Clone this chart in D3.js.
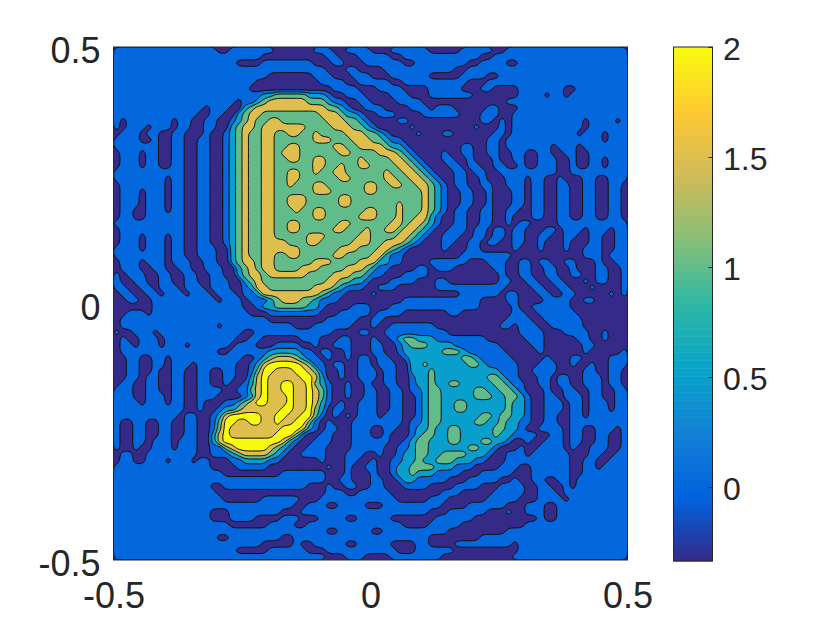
<!DOCTYPE html>
<html>
<head>
<meta charset="utf-8">
<script src="https://cdn.jsdelivr.net/npm/d3@7"></script>
<style>
  html, body { margin: 0; padding: 0; background: #fff; }
  text { font-family: "Liberation Sans", Arial, sans-serif; fill: #262626; }
</style>
</head>
<body>
<svg id="chart" width="840" height="630"></svg>
<script>
// field, one digit per cell: index into bandValues, left and right half of each row
const fieldRows = [
"1111111111111111001111111000000111001111 0001111110000011111001111111111111111111",
"1111111111111111111111100000000001100011 1110011111111111100111111111111111111111",
"1111111111111111111000011111111000110001 1111100111111110011110011111111111111111",
"1111111111111111111111111111111110001100 0011111111111001111111111111111111111111",
"1111111111111111111111110000000111000111 0001111110000011110011111111111111111111",
"1111111111111111111111000000000011110011 1110011111111110001111111111111111111111",
"1111111111111111111110000000000000111100 0111100001111100011000011111110011111111",
"1111111111111111111111122333332221001110 0001110001111111000000011110110111111111",
"1111111111111111111011234444443332110011 0000111100000000000001111111111111111111",
"1111111111111101110023444444444443321001 1100001110111000001100011111111111111111",
"1111111111111001100234433333333344432210 0111000011111100011100111111111111111111",
"1011111110110011001234334433333334443321 0000110000000000011010111111111110111101",
"1011101110110011002344344444443333444332 1000001000000000100010111111111110111111",
"0111011001100010012343344334433433334443 3210000100011000000110111111111101110111",
"1111001001100110012343344333333444333444 3321100000000000001101111111111111110111",
"1111111001100110012343344334433333443344 4432210000000011001101111111011101111111",
"0111011001100110012343344344433333344333 3444321000010011001100110011001100111111",
"0111011001100110012343344334433443333343 3334432100011001000100110011100100110111",
"0111011001100110012343344333333443343344 3333443210001101100110010011100100110111",
"1111111111100110012343344334433433443333 3343344321000110110011111111100111111111",
"1111111101100110012343344334433333344333 3344334432100110010001110110010001100111",
"0111111101100110012343344334333443333334 4334433443210110011001110110011001100110",
"0111011101100110012343344333333444333334 4333333343210011001000110110011001100110",
"0111011101100110012343344334443333344333 3333333343210011001000110110011001100110",
"0111011101100110012343344334443333344333 3333433343210011001000110110011001100110",
"0110011101100110012343344333433443333334 4333433343210110011001100110011001100110",
"0110011111100110012343344333333443333344 4333433442100110011001000110011001100110",
"1111111111100110012343344334433333344333 3334434432100110011001011000011111111111",
"0111111111100110012343344334433333443334 3344344321001110110110110001101110111011",
"0111011101100110012343344333334443333344 3333443210011100110110110011001100110011",
"0111011101100110012343344443334433333444 3344432100011001101100110010001000110011",
"1111011101100111002343344444433333344433 3443210000010001100000100010001001110011",
"1111111101100111002343344334433333443333 4421100000000011111111000000000001110111",
"0111011101110011002344344333333444333344 4221100001111110001110011011001100010011",
"0111001100110011100234344333344433334443 2110000110111000000110011001100100011001",
"1011100110011001100234434444443333444332 1100011110000000000010011001100110011001",
"1001100110011001110023433333333334433221 0001111000110000000011001100110001011001",
"1100110111011101110012443333333444321110 0111000000111111111110000110011000100001",
"0110011011101110111011244444444432110000 1000000000000011111101100011001100000101",
"0011001111111111011101112344433211100000 0000011111111111100001100001111001100000",
"0000001111111111111100122333332210000111 0001111111111111100000100111111000000000",
"0011101111111111111110001111111100011111 0111100000001100000000110011111100000000",
"0111111111111111111111110000000001111100 1100000000000000000001111001111110000000",
"0111111111111111011111111111000111111000 1001111111000000000011011100111110000000",
"1001110111111111111100111111111111000011 0011111111110000000000011110001111001000",
"0100111011111111111001100000011100011000 1001233222111111110000001110000011001000",
"0110111011101111110111000111100100111000 1100123332222111111100000110000001100000",
"0111111111111111001111112222211011001000 1100122222233321111110000010000001000001",
"0011001101111111111100123444321101001011 0110012222222233211111000001000110000111",
"0011001101110111111001245555543110110011 0111002232222223321111100011100100100111",
"0011001001100110011001355444554310010011 1011002223222222222211100111100001100110",
"0011011001100110011002454444455420010011 1011001223222222223321100011011001110110",
"0110011001100110010012454455445321001001 0011001223223322222332110011011001110110",
"1110011001100111100113454455445431001001 1001101123322222332233210001001100110011",
"1110011101100111000012454445445431001001 1001100123322222333223321001101110110011",
"1111011101100100011234554445445421010011 1001100123322332222223221001110110111011",
"1111111111100100122344444455445320110011 1001100123322332222223221001110110111011",
"1111111111011001245555544554455310101011 1011100123322222233233221001100110111111",
"1001100110011001355445544544553101000111 1111101123322222332232211001100111111111",
"1001100110011001354444444455542101100111 0011001223223322222332210011110110011101",
"1001100110011002454444444555310011000111 0010001233223322222322111100110110011001",
"1001101110111002455555555542100111000111 1110012332223322233221001001110110011001",
"1001001110111001134555554321001110000111 1100112332222223322100010011110100111001",
"0110011111111001112344443210011110001110 0100122332233332221001110111111000110011",
"0110011101110110001122221100000010001100 1001122322333222110001111111111001100111",
"1111111111111110000111110000000001001001 1001223333222111000011100111111001101111",
"1111111111111111100000000011111110001000 1001223222111100011111000111111001111111",
"1111111111111111111111111111111110011000 1100122111110001111100100110011011111111",
"1111111111111110011111111111110001001100 1100011110000111100011110011001011111111",
"1111111111111111000000000000000001110011 1110000000011100000111110011101111111111",
"1111111111111111100000011111100011111111 1111000001110000001111100011110111111111",
"1111111111111111111111111111001110011110 0011111111100001111110001110011111111111",
"1111111111111110001111111100011111111111 1111111110001111110001001110011111111111",
"1111111111111110001111000011100011110011 1110000000111111000000000010011111111111",
"1111111111111111110000001111001111111111 1111100001111100000000001111111111111111",
"1111111111111111111111111111111110011111 0011111111110000000001111111111111111111",
"1111111111111111001111111100111111111111 1111111110000000011111111111111111111111",
"1111111111111111111111100000100111110011 1110000110000111111111011111111111111111",
"1111111111111111111000001111110001111111 1111000111111000000000011111111111111111",
"1111111111111111111111111111111110001110 0001111111100000000000111111111111111111"
];
const bandValues = [-0.25, 0.25, 0.75, 1.25, 1.75, 2.25];
const levels = [0, 0.5, 1, 1.5, 2];
const axisTicks = [-0.5, 0, 0.5];
const axisLabels = ['-0.5', '0', '0.5'];
const barTicks = [0, 0.5, 1, 1.5, 2];
const barLabels = ['0', '0.5', '1', '1.5', '2'];
const parulaStops = ['#352a87', '#0062df', '#1481d6', '#06a4ca', '#2eb7a4', '#87bf77', '#d1bb59', '#fec832', '#f9fb0e'];
const climMin = -0.336, climMax = 2;
const nColors = 64;

const size = 80;
const values = [];
fieldRows.forEach(row => {
  row.split(' ').forEach(half => {
    half.padEnd(size / 2, '1').slice(0, size / 2).split('').forEach(c => values.push(bandValues[+c]));
  });
});

const svg = d3.select('#chart');

const x = d3.scaleLinear().domain([-0.5, 0.5]).range([113.5, 627.5]);
const y = d3.scaleLinear().domain([-0.5, 0.5]).range([560, 47]);
const barY = d3.scaleLinear().domain([climMin, climMax]).range([561, 47]);

const parula = d3.scaleLinear()
  .domain(parulaStops.map((d, i) => climMin + (climMax - climMin) * i / (parulaStops.length - 1)))
  .range(parulaStops)
  .interpolate(d3.interpolateRgb);

svg.append('clipPath').attr('id', 'plot-clip')
  .append('rect')
  .attr('x', x(-0.5)).attr('y', y(0.5))
  .attr('width', x(0.5) - x(-0.5)).attr('height', y(-0.5) - y(0.5));

// lowest band fills the whole box
const plot = svg.append('g').attr('clip-path', 'url(#plot-clip)');
plot.append('rect')
  .attr('x', x(-0.5)).attr('y', y(0.5))
  .attr('width', x(0.5) - x(-0.5)).attr('height', y(-0.5) - y(0.5))
  .attr('fill', parula(climMin));

const contours = d3.contours().size([size, size]).thresholds(levels)(values);

const ringLine = d3.line()
  .x(p => x(-0.5 + p[0] / size))
  .y(p => y(0.5 - p[1] / size))
  .curve(d3.curveBasisClosed);

const contourPath = c => c.coordinates
  .map(poly => poly.map(ring => ringLine(ring.slice(0, -1))).join(''))
  .join('');

plot.selectAll('path.band')
  .data(contours)
  .join('path')
  .attr('class', 'band')
  .attr('d', contourPath)
  .attr('fill', d => parula(d.value))
  .attr('fill-rule', 'evenodd')
  .attr('stroke', '#111')
  .attr('stroke-width', 1);

// axes
const xAxis = d3.axisBottom(x).tickValues(axisTicks).tickSize(0).tickPadding(0)
  .tickFormat((d, i) => axisLabels[i]);
const yAxis = d3.axisLeft(y).tickValues(axisTicks).tickSize(0).tickPadding(0)
  .tickFormat((d, i) => axisLabels[i]);

const gx = svg.append('g').attr('transform', `translate(0,${y(-0.5)})`).call(xAxis);
gx.select('.domain').remove();
gx.selectAll('text').attr('y', 48).attr('dy', 0).style('font-size', '36px').attr('fill', '#262626');

const gy = svg.append('g').attr('transform', `translate(${x(-0.5)},0)`).call(yAxis);
gy.select('.domain').remove();
gy.selectAll('text').attr('x', -13).attr('dy', 15.5).style('font-size', '36px').attr('fill', '#262626');

svg.append('rect')
  .attr('x', x(-0.5)).attr('y', y(0.5))
  .attr('width', x(0.5) - x(-0.5)).attr('height', y(-0.5) - y(0.5))
  .attr('fill', 'none').attr('stroke', '#262626').attr('stroke-width', 1);

// colorbar
const barLeft = 673.5, barWidth = 39;
const stepH = (climMax - climMin) / nColors;
svg.append('g').selectAll('rect')
  .data(d3.range(nColors))
  .join('rect')
  .attr('x', barLeft)
  .attr('width', barWidth)
  .attr('y', i => barY(climMin + (i + 1) * stepH))
  .attr('height', i => barY(climMin + i * stepH) - barY(climMin + (i + 1) * stepH) + 0.5)
  .attr('fill', i => parula(climMin + (i + 0.5) * stepH));

const barAxis = d3.axisRight(barY).tickValues(barTicks).tickSize(-4).tickPadding(0)
  .tickFormat((d, i) => barLabels[i]);
const gb = svg.append('g').attr('transform', `translate(${barLeft + barWidth},0)`).call(barAxis);
gb.select('.domain').remove();
gb.selectAll('line').attr('stroke', '#262626');
gb.selectAll('text').attr('x', 10.5).attr('dy', 12).style('font-size', '32px').attr('fill', '#262626');

svg.append('rect')
  .attr('x', barLeft).attr('y', barY(climMax))
  .attr('width', barWidth).attr('height', barY(climMin) - barY(climMax))
  .attr('fill', 'none').attr('stroke', '#262626').attr('stroke-width', 1);
</script>
</body>
</html>
